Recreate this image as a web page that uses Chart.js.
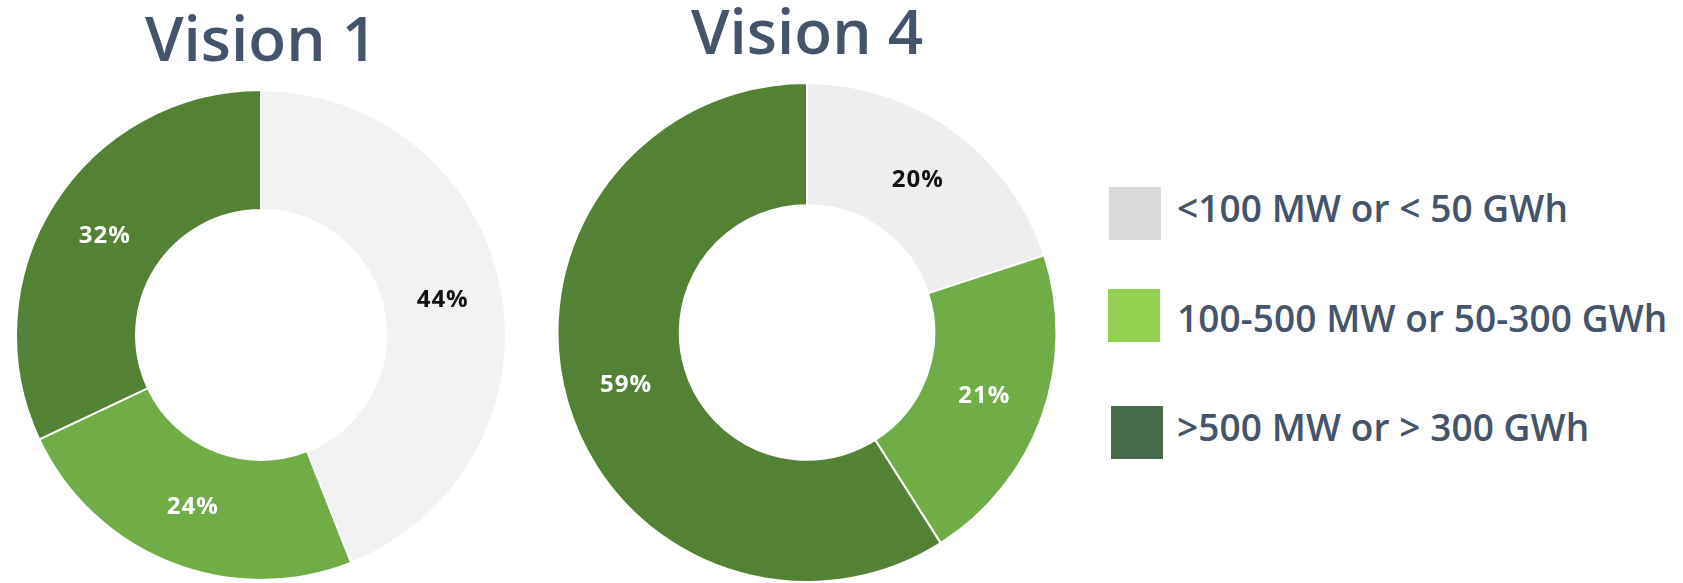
<!DOCTYPE html>
<html>
<head>
<meta charset="utf-8">
<script src="https://cdn.jsdelivr.net/npm/chart.js@4.4.1/dist/chart.umd.min.js"></script>
<style>
  body { margin: 0; background: #fff; }
  #wrap { position: relative; width: 1683px; height: 583px; overflow: hidden; }
  .chartBox { position: absolute; top: 0; height: 583px; }
  .swatch { position: absolute; width: 52px; height: 53px; }
  .legendText {
    position: absolute; left: 1177px; white-space: nowrap;
    font-family: 'Open Sans', sans-serif; font-weight: 600; font-size: 37px;
    line-height: 37px; letter-spacing: 0.1px; color: #44546a;
  }
</style>
</head>
<body>
<div id="wrap">
  <div class="chartBox" style="left:0; width:522px;"><canvas id="vision1Chart"></canvas></div>
  <div class="chartBox" style="left:547px; width:520px;"><canvas id="vision4Chart"></canvas></div>
  <div id="legend"></div>
</div>
<script>
const categories = ["<100 MW or < 50 GWh", "100-500 MW or 50-300 GWh", ">500 MW or > 300 GWh"];
const vision1Values = [44, 24, 32];
const vision4Values = [20, 21, 59];
const chartTitles = ["Vision 1", "Vision 4"];

const legendColors = ["#d9d9d9", "#92d050", "#476a4a"];
const labelColors = ["#111111", "#ffffff", "#ffffff"];
const titleColor = "#44546a";

// percentage text in the middle of each ring segment
const pctLabels = {
  id: "pctLabels",
  afterDatasetsDraw(chart) {
    const ctx = chart.ctx;
    const values = chart.data.datasets[0].data;
    chart.getDatasetMeta(0).data.forEach((arc, i) => {
      const p = arc.getCenterPoint();
      ctx.save();
      ctx.font = "bold 24px 'Open Sans'";
      ctx.letterSpacing = "1px";
      ctx.fillStyle = labelColors[i];
      ctx.textAlign = "center";
      ctx.textBaseline = "middle";
      ctx.fillText(values[i] + "%", p.x, p.y);
      ctx.restore();
    });
  }
};

function makeDonut(canvasId, title, values, colors, titlePadding, bottomPad) {
  const ctx = document.getElementById(canvasId).getContext("2d");
  return new Chart(ctx, {
    type: "doughnut",
    data: {
      labels: categories,
      datasets: [{
        data: values,
        backgroundColor: colors,
        borderColor: "#ffffff",
        borderWidth: 2
      }]
    },
    options: {
      responsive: true,
      maintainAspectRatio: false,
      animation: false,
      cutout: "51%",
      layout: { padding: { bottom: bottomPad } },
      plugins: {
        legend: { display: false },
        tooltip: { enabled: false },
        title: {
          display: true,
          text: title,
          color: titleColor,
          font: { family: "'Open Sans'", size: 62, weight: "600", lineHeight: 0.9 },
          padding: titlePadding
        }
      }
    },
    plugins: [pctLabels]
  });
}

makeDonut("vision1Chart", chartTitles[0], vision1Values,
  ["#f2f2f2", "#70ad47", "#548235"], { top: 15, bottom: 18.2 }, 2);
makeDonut("vision4Chart", chartTitles[1], vision4Values,
  ["#eeeeee", "#70ad47", "#548235"], { top: 8, bottom: 18.2 }, 0);

// legend on the right, built from the categories
const legend = document.getElementById("legend");
const swatchPos = [[1109, 187], [1108, 289], [1111, 406]];
const capTops = [195, 305, 414];
categories.forEach((name, i) => {
  const sw = document.createElement("div");
  sw.className = "swatch";
  sw.style.left = swatchPos[i][0] + "px";
  sw.style.top = swatchPos[i][1] + "px";
  sw.style.background = legendColors[i];
  legend.appendChild(sw);

  const txt = document.createElement("div");
  txt.className = "legendText";
  txt.style.top = (capTops[i] - 6) + "px";
  txt.textContent = name;
  legend.appendChild(txt);
});
</script>
</body>
</html>
